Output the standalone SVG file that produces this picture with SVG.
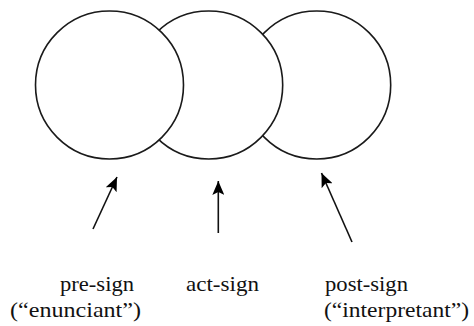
<svg xmlns="http://www.w3.org/2000/svg" width="474" height="326" viewBox="0 0 474 326">
  <style>
    .c { fill: #ffffff; stroke: #1a1a1a; stroke-width: 1.6; }
    .a { stroke: #111111; stroke-width: 1.6; fill: none; marker-end: url(#head); }
    .t { font-size: 22px; fill: #111111; }
  </style>
  <defs>
    <marker id="head" viewBox="0 0 14 12" refX="14" refY="6" markerWidth="14" markerHeight="12" markerUnits="userSpaceOnUse" orient="auto">
      <path d="M0,0 L14,6 L0,12 L3,6 z" fill="#000000"/>
    </marker>
  </defs>
  <rect width="474" height="326" fill="#ffffff"/>
  <g id="post-sign-circle"><circle class="c" cx="316.7" cy="85" r="74"/></g>
  <g id="act-sign-circle"><circle class="c" cx="208.7" cy="85" r="74"/></g>
  <g id="pre-sign-circle"><circle class="c" cx="109.5" cy="85" r="74"/></g>
  <g id="connectors">
    <line class="a" x1="93" y1="229" x2="117" y2="177"/>
    <line class="a" x1="218.3" y1="233" x2="218.3" y2="181"/>
    <line class="a" x1="352" y1="242" x2="321.5" y2="173"/>
  </g>
  <g id="labels" font-family="Liberation Serif, Times New Roman, serif">
    <g id="pre-sign-label">
      <text class="t" font-family="Liberation Serif, serif" x="60" y="291" textLength="74" lengthAdjust="spacingAndGlyphs">pre-sign</text>
      <text class="t" font-family="Liberation Serif, serif" x="10" y="317" textLength="131" lengthAdjust="spacingAndGlyphs">(“enunciant”)</text>
    </g>
    <g id="act-sign-label">
      <text class="t" font-family="Liberation Serif, serif" x="186" y="291" textLength="73" lengthAdjust="spacingAndGlyphs">act-sign</text>
    </g>
    <g id="post-sign-label">
      <text class="t" font-family="Liberation Serif, serif" x="325" y="291" textLength="83" lengthAdjust="spacingAndGlyphs">post-sign</text>
      <text class="t" font-family="Liberation Serif, serif" x="324" y="317" textLength="145" lengthAdjust="spacingAndGlyphs">(“interpretant”)</text>
    </g>
  </g>
</svg>
